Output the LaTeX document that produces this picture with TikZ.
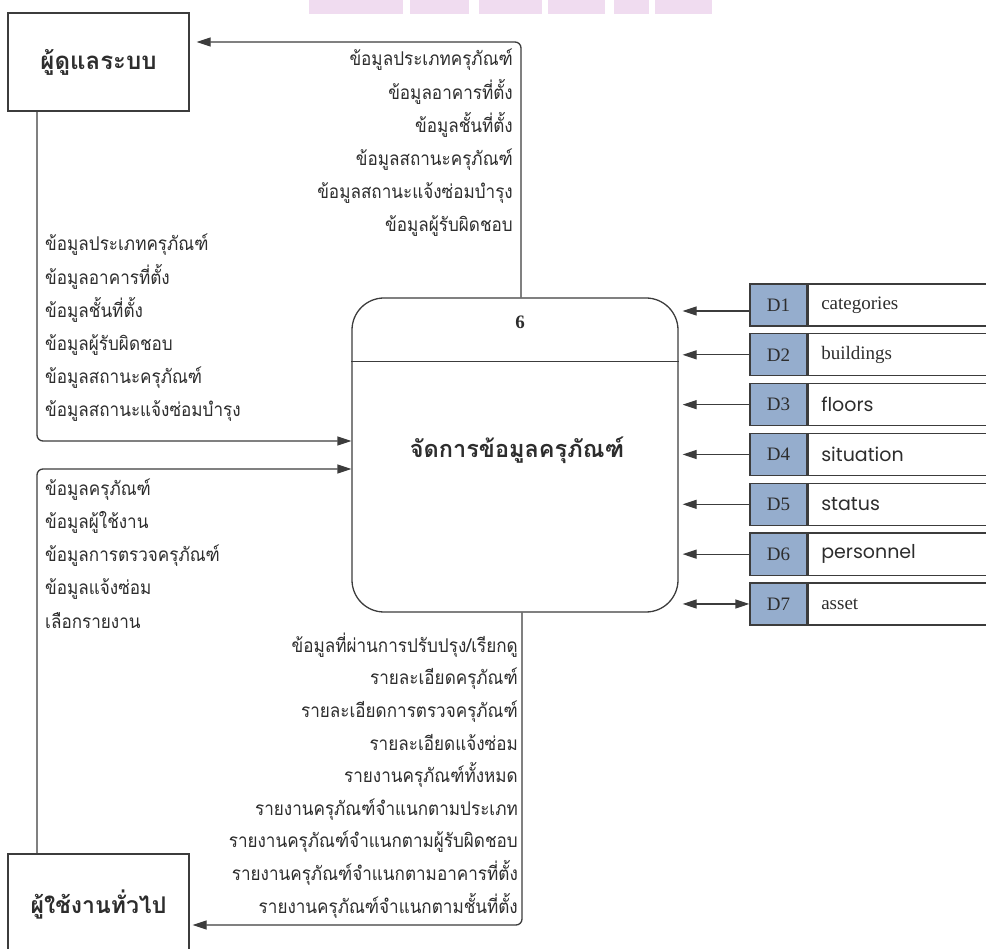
\documentclass[tikz,border=0pt]{standalone}
\usepackage{fontspec}
\newfontfamily\thai[Script=Thai]{Loma}
\newfontfamily\thainarrow[Script=Thai,FakeStretch=0.9]{Loma}
\newfontfamily\rmlat{Liberation Serif}
\newfontfamily\geo{Poppins}
\usetikzlibrary{arrows.meta}

\definecolor{ink}{RGB}{45,45,45}
\definecolor{edge}{RGB}{60,60,60}
\definecolor{storeblue}{RGB}{149,173,205}
\definecolor{bandpink}{RGB}{240,220,240}

\begin{document}
\begin{tikzpicture}[x=1pt,y=-1pt,
  line/.style={draw=edge, line width=1.3pt},
  flow/.style={line, rounded corners=6pt, -{Triangle[length=14pt,width=9pt]}},
  twoway/.style={line, {Triangle[length=14pt,width=9pt]}-{Triangle[length=14pt,width=9pt]}},
  entity/.style={line, rectangle, minimum width=181pt, inner sep=0pt, text=ink,
    font=\thai\bfseries\fontsize{23}{27}\selectfont},
  flowtext/.style={inner sep=0pt, text=ink, font=\thainarrow\fontsize{19}{33.2}\selectfont},
  dcell/.style={line, fill=storeblue, rectangle, minimum width=57pt, minimum height=42pt,
    inner sep=0pt, text=ink, font=\rmlat\fontsize{19}{22}\selectfont},
  dname/.style={line, rectangle, minimum height=42pt, text width=174pt, inner xsep=13pt,
    inner ysep=0pt, align=left, text=ink}
]
\useasboundingbox (0,0) rectangle (986,949);

% faint band along the top edge
\foreach \a/\b in {309/403, 410/469, 479/542, 548/605, 614/649, 655/712}
  \fill[bandpink] (\a,0) rectangle (\b,14);

% external entities
\node[entity, minimum height=98pt, font=\thai\bfseries\fontsize{24}{28}\selectfont]
  (admin) at (98.5,62) {ผู้ดูแลระบบ};
\node[entity, minimum height=102pt] (user) at (98.5,905) {ผู้ใช้งานทั่วไป};

% process 6
\node[line, rectangle, rounded corners=32pt, minimum width=326pt, minimum height=314pt,
  inner sep=0pt] (proc) at (515,455) {};
\draw[line] ([yshift=-64pt]proc.north west) -- ([yshift=-64pt]proc.north east);
\node[text=ink, font=\rmlat\bfseries\fontsize{19}{22}\selectfont] (pnum)
  at ([xshift=5pt,yshift=-25pt]proc.north) {6};
\node[text=ink, font=\thai\bfseries\fontsize{23.5}{27}\selectfont] (ptitle)
  at (517,450) {จัดการข้อมูลครุภัณฑ์};

% data stores
\foreach \i/\nm/\ff in {1/categories/\rmlat, 2/buildings/\rmlat, 3/floors/\geo,
    4/situation/\geo, 5/status/\geo, 6/personnel/\geo, 7/asset/\rmlat} {
  \node[dcell] (d\i) at (778.5,{305+49.83*(\i-1)}) {D\i};
  \node[dname, anchor=west, font=\ff\fontsize{19}{22}\selectfont] (n\i) at (d\i.east) {\nm};
}

% store reads
\draw[flow, shorten >=4pt] ([yshift=-6pt]d1.west) -- ([yshift=-6pt]d1.west -| proc.east);
\foreach \i in {2,...,6}
  \draw[flow, shorten >=4pt] (d\i.west) -- (d\i.west -| proc.east);
\draw[twoway, shorten >=4pt] (d7.west) -- (d7.west -| proc.east);

% flows between process and entities
\coordinate (ptop) at ([xshift=6pt]proc.north);
\coordinate (pbot) at ([xshift=7pt]proc.south);
\draw[flow, shorten >=7pt] (ptop) |- ([yshift=20pt]admin.east);
\draw[flow] ([xshift=-61.5pt]admin.south) |- ([yshift=14pt]proc.west);
\draw[flow] ([xshift=-61.5pt]user.north) |- ([yshift=-14pt]proc.west);
\draw[flow, shorten >=3pt] (pbot) |- ([yshift=-20pt]user.east);

% flow labels (each anchored at the baseline of its last line)
\node[flowtext, align=right, anchor=base east] (toadmin) at (513,232)
  {ข้อมูลประเภทครุภัณฑ์\\ข้อมูลอาคารที่ตั้ง\\ข้อมูลชั้นที่ตั้ง\\ข้อมูลสถานะครุภัณฑ์\\ข้อมูลสถานะแจ้งซ่อมบำรุง\\ข้อมูลผู้รับผิดชอบ};
\node[flowtext, align=left, anchor=base west] (fromadmin) at (45,417)
  {ข้อมูลประเภทครุภัณฑ์\\ข้อมูลอาคารที่ตั้ง\\ข้อมูลชั้นที่ตั้ง\\ข้อมูลผู้รับผิดชอบ\\ข้อมูลสถานะครุภัณฑ์\\ข้อมูลสถานะแจ้งซ่อมบำรุง};
\node[flowtext, align=left, anchor=base west] (fromuser) at (45,628)
  {ข้อมูลครุภัณฑ์\\ข้อมูลผู้ใช้งาน\\ข้อมูลการตรวจครุภัณฑ์\\ข้อมูลแจ้งซ่อม\\เลือกรายงาน};
\node[flowtext, align=right, anchor=base east, font=\thainarrow\fontsize{19}{32.6}\selectfont] (touser) at (518,913)
  {ข้อมูลที่ผ่านการปรับปรุง/เรียกดู\\รายละเอียดครุภัณฑ์\\รายละเอียดการตรวจครุภัณฑ์\\รายละเอียดแจ้งซ่อม\\รายงานครุภัณฑ์ทั้งหมด\\รายงานครุภัณฑ์จำแนกตามประเภท\\รายงานครุภัณฑ์จำแนกตามผู้รับผิดชอบ\\รายงานครุภัณฑ์จำแนกตามอาคารที่ตั้ง\\รายงานครุภัณฑ์จำแนกตามชั้นที่ตั้ง};
\end{tikzpicture}
\end{document}
